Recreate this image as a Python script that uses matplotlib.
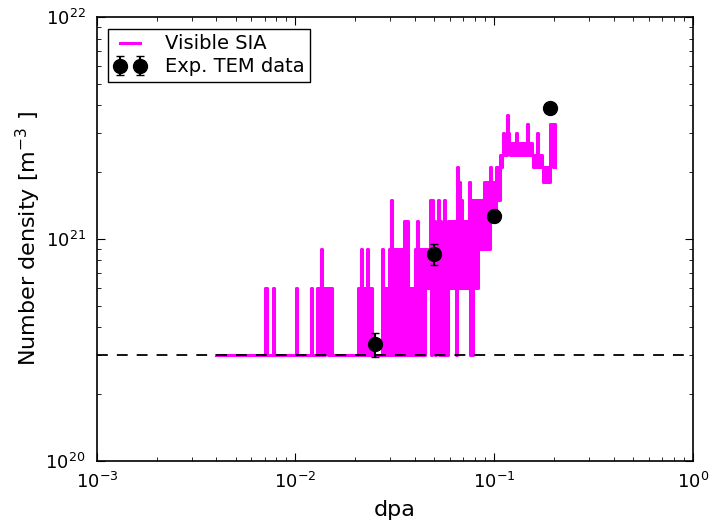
import numpy as np
import matplotlib
matplotlib.use("Agg")
import matplotlib.pyplot as plt

# ---- data ----
# simulated visible SIA cluster count (in units of one cluster per cell = 3e20 m^-3)
density_unit = 3e20
dpa_start, dpa_end = 0.00396, 0.2025
sia_counts_a = ([1]*50 + [2, 2] + [1]*6 + [2] + [1]*22 + [2] + [1]*14 + [2] + [1]*5 +
                [2, 1, 2, 1, 3, 1, 2, 1, 2, 2, 2, 1, 2, 1, 2] + [1]*26 +
                [2, 1, 2, 3, 1, 2, 1, 2, 1, 3, 1, 2, 1, 2, 1] + [1]*9 + [3, 1, 2])
sia_counts_b = [2, 1, 2, 1, 3, 1, 5, 1, 3, 1, 3, 1, 3, 3, 1, 3, 1, 3, 1, 4,
                1, 3, 4, 1, 2, 1, 2, 1, 2, 1, 3, 1, 4, 1, 3, 1, 3, 1, 3, 1,
                2, 3, 2, 3, 2,
                5, 1, 5, 2, 4, 1, 3, 2, 5, 1, 4, 1, 3, 1, 5, 1, 3,
                1, 4, 2, 4, 2, 4, 2, 4, 2, 1, 7, 2, 6, 2, 5, 2, 4, 2, 4, 2,
                4, 2, 6, 1, 5, 1, 2, 5, 2, 5, 2, 5, 3, 5, 3, 5, 3, 6, 3, 6,
                3, 6, 3, 7, 4, 6, 4, 6, 4, 7, 5, 7, 5]
sia_counts_c = [8, 7, 8, 10, 8, 9, 8, 12, 10, 9, 8, 9, 8, 9, 8, 9, 10, 8, 9, 8,
                9, 8, 9, 8, 9, 8, 9, 11, 8, 9, 8, 9, 8, 7, 8, 7, 8, 10, 7, 8,
                7, 8, 7, 6, 7, 6, 7, 6, 7, 6, 11, 8, 11, 7, 11, 7]
sia_counts = np.array(sia_counts_a + sia_counts_b + sia_counts_c)

exp_dpa = [0.025, 0.05, 0.1, 0.19]
exp_density = [3.35e20, 8.55e20, 1.27e21, 3.9e21]
exp_err = [0.4e20, 0.9e20, 0.8e20, 1.5e20]

threshold = 3e20

# ---- plot ----
sim_dpa = np.logspace(np.log10(dpa_start), np.log10(dpa_end), len(sia_counts))
sim_density = sia_counts * density_unit

fig = plt.figure(figsize=(7.12, 5.31), dpi=100)
ax = fig.add_axes([0.136, 0.132, 0.837, 0.836])

ax.plot(sim_dpa, sim_density, color='#ff00ff', lw=2.2, drawstyle='steps-post',
        label='Visible SIA', zorder=2)
ax.axhline(threshold, color='black', ls='--', lw=1.3, dashes=(6, 5), zorder=3)
ax.errorbar(exp_dpa, exp_density, yerr=exp_err, fmt='o', color='black',
            markersize=10, elinewidth=1.5, capsize=3, label='Exp. TEM data', zorder=4)

ax.set_xscale('log')
ax.set_yscale('log')
ax.set_xlim(1e-3, 1e0)
ax.set_ylim(1e20, 1e22)
ax.set_xlabel('dpa', fontsize=16, labelpad=6)
ax.set_ylabel('Number density [m$^{-3}$ ]', fontsize=16, labelpad=2)
ax.tick_params(which='both', direction='in', top=True, right=True, labelsize=13)
ax.tick_params(which='major', length=6, pad=8)
ax.tick_params(which='minor', length=3)
for s in ax.spines.values():
    s.set_linewidth(1.2)

leg = ax.legend(loc='upper left', fontsize=14, numpoints=2, handlelength=1.6,
                fancybox=False, framealpha=1, edgecolor='black',
                borderaxespad=0.6, handletextpad=1.0, borderpad=0.3, labelspacing=0.2)
leg.get_frame().set_linewidth(1.0)

fig.savefig('out.png', dpi=100)
